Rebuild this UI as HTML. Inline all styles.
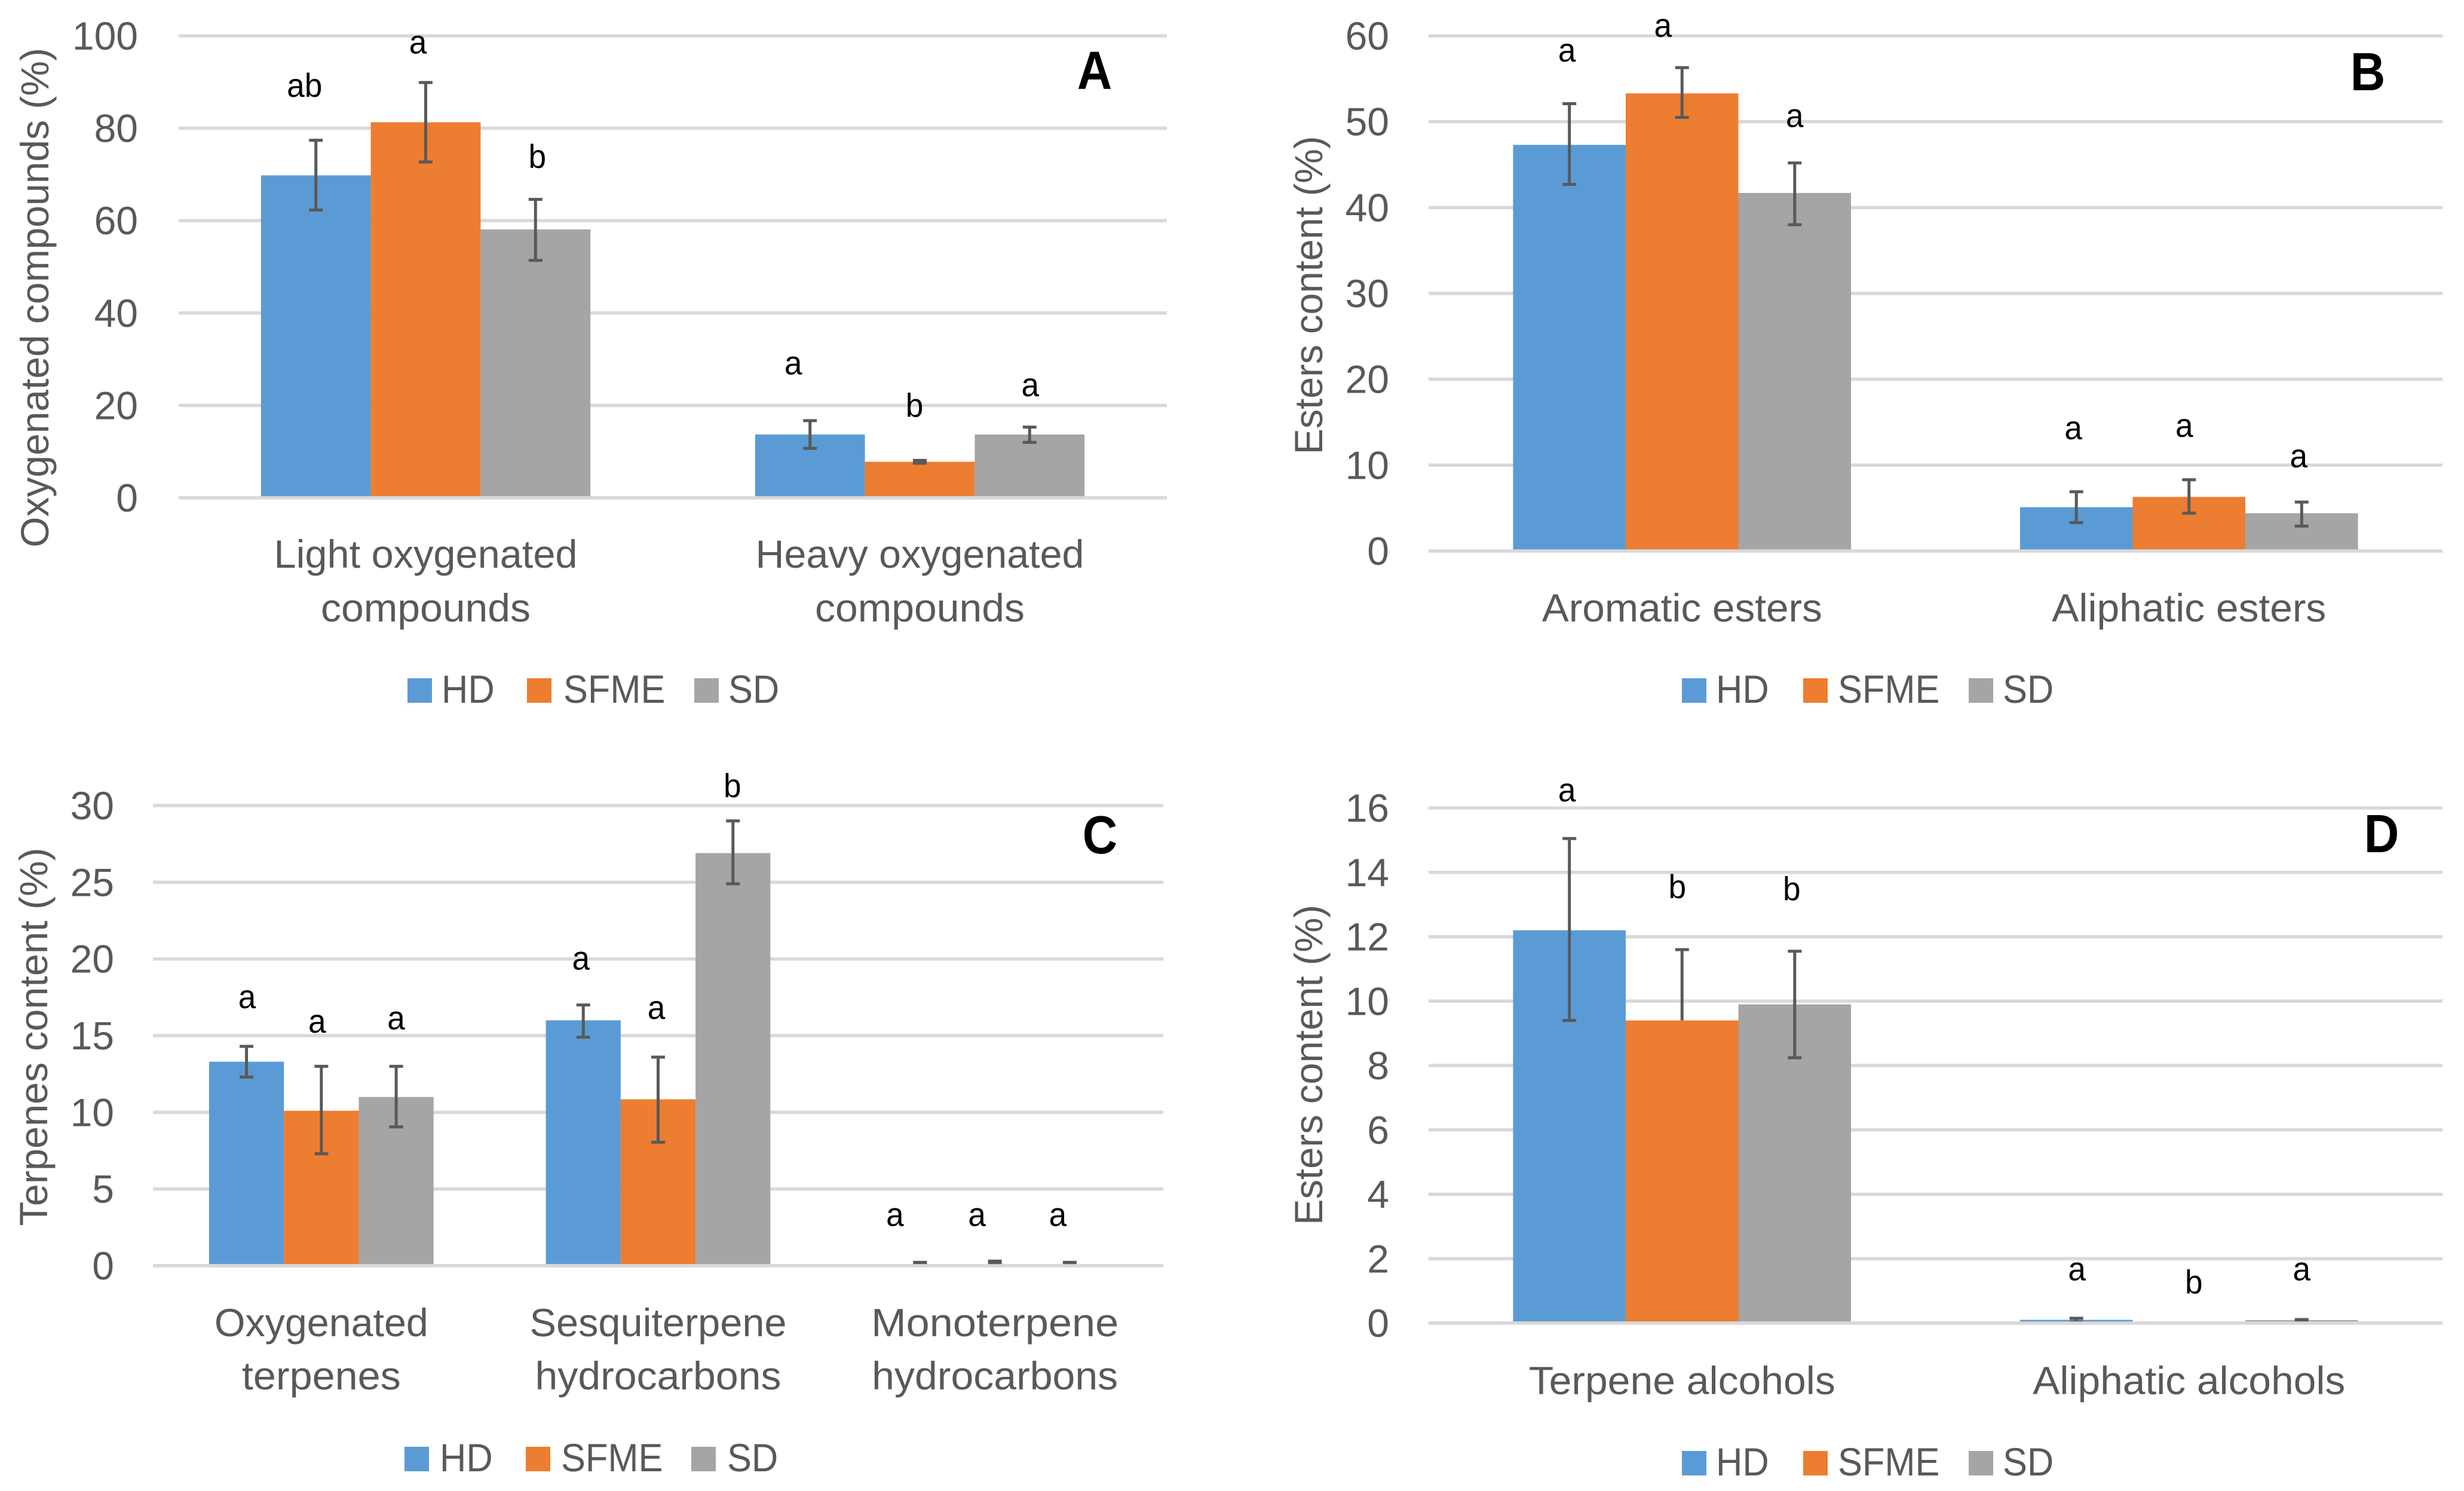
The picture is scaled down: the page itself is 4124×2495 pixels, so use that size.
<!DOCTYPE html>
<html lang="en">
<head>
<meta charset="utf-8">
<title>Composition of extracts: panels A to D</title>
<style>
html,body{margin:0;padding:0;background:#fff;}
svg{display:block;font-family:"Liberation Sans",sans-serif;}
</style>
</head>
<body>
<svg id="figure" xmlns="http://www.w3.org/2000/svg" width="4124" height="2495" viewBox="0 0 4124 2495">
<rect width="4124" height="2495" fill="#ffffff"/>
</svg>
<script>
// Shared series
const seriesNames = ['HD', 'SFME', 'SD'];
const seriesColors = ['#5b9bd5', '#ed7d31', '#a5a5a5'];

// Panel A
const aCategories = [['Light oxygenated', 'compounds'], ['Heavy oxygenated', 'compounds']];
const aTicks = [0, 20, 40, 60, 80, 100];
const aHD = [69.8, 13.7];
const aSFME = [81.3, 7.8];
const aSD = [58.1, 13.7];
const aHDHigh = [77.4, 16.7];
const aHDLow = [62.3, 10.7];
const aSFMEHigh = [89.9, 8.1];
const aSFMELow = [72.7, 7.5];
const aSDHigh = [64.6, 15.3];
const aSDLow = [51.4, 12.0];
const aLetters = ['ab', 'a', 'b', 'a', 'b', 'a'];
const aLetterLevels = [86.8, 96.2, 71.4, 26.7, 17.5, 22.0];

// Panel B
const bCategories = [['Aromatic esters'], ['Aliphatic esters']];
const bTicks = [0, 10, 20, 30, 40, 50, 60];
const bHD = [47.3, 5.1];
const bSFME = [53.3, 6.3];
const bSD = [41.7, 4.4];
const bHDHigh = [52.1, 6.9];
const bHDLow = [42.7, 3.3];
const bSFMEHigh = [56.3, 8.3];
const bSFMELow = [50.5, 4.4];
const bSDHigh = [45.2, 5.7];
const bSDLow = [38.0, 2.9];
const bLetters = ['a', 'a', 'a', 'a', 'a', 'a'];
const bLetterLevels = [57.0, 59.9, 49.4, 13.0, 13.3, 9.75];

// Panel C
const cCategories = [['Oxygenated', 'terpenes'], ['Sesquiterpene', 'hydrocarbons'], ['Monoterpene', 'hydrocarbons']];
const cTicks = [0, 5, 10, 15, 20, 25, 30];
const cHD = [13.3, 16.0, 0.03];
const cSFME = [10.1, 10.85, 0.05];
const cSD = [11.0, 26.9, 0.03];
const cHDHigh = [14.3, 17.0, 0.22];
const cHDLow = [12.3, 14.9, 0.1];
const cSFMEHigh = [13.0, 13.6, 0.3];
const cSFMELow = [7.3, 8.05, 0.15];
const cSDHigh = [13.0, 29.0, 0.22];
const cSDLow = [9.05, 24.9, 0.1];
const cLetters = ['a', 'a', 'a', 'a', 'a', 'b', 'a', 'a', 'a'];
const cLetterLevels = [16.8, 15.2, 15.4, 19.3, 16.1, 30.55, 2.6, 2.6, 2.6];

// Panel D
const dCategories = [['Terpene alcohols'], ['Aliphatic alcohols']];
const dTicks = [0, 2, 4, 6, 8, 10, 12, 14, 16];
const dHD = [12.2, 0.1];
const dSFME = [9.4, 0];
const dSD = [9.9, 0.09];
const dHDHigh = [15.05, 0.15];
const dHDLow = [9.4, 0.03];
const dSFMEHigh = [11.6, 0];
const dSFMELow = [9.4, 0];
const dSDHigh = [11.55, 0.11];
const dSDLow = [8.24, 0.03];
const dLetters = ['a', 'b', 'b', 'a', 'b', 'a'];
const dLetterLevels = [16.2, 13.2, 13.13, 1.33, 0.92, 1.33];

const panels = [
  {
    id: 'a', mark: 'A', title: 'Oxygenated compounds (%)',
    categories: aCategories, ticks: aTicks,
    values: [aHD, aSFME, aSD], highs: [aHDHigh, aSFMEHigh, aSDHigh], lows: [aHDLow, aSFMELow, aSDLow],
    letters: aLetters, letterLevels: aLetterLevels,
    box: { left: 299, right: 1953, top: 60, bottom: 833 },
    tickRight: 231,
    titleBase: 81, titleMid: 498, titleLen: 836,
    catBase: [950, 1040], catLens: [[508, 351], [550, 351]],
    shifts: [-19, -13, 3, -28, -9, 1],
    markX: 1832, markBase: 149,
    legendTop: 1135, legendSw: [682, 882, 1162], legendTx: [739, 943, 1219]
  },
  {
    id: 'b', mark: 'B', title: 'Esters content (%)',
    categories: bCategories, ticks: bTicks,
    values: [bHD, bSFME, bSD], highs: [bHDHigh, bSFMEHigh, bSDHigh], lows: [bHDLow, bSFMELow, bSDLow],
    letters: bLetters, letterLevels: bLetterLevels,
    box: { left: 2391, right: 4088, top: 60, bottom: 922 },
    tickRight: 2325,
    titleBase: 2213, titleMid: 494, titleLen: 533,
    catBase: [1040], catLens: [[469], [459]],
    shifts: [-4, -32, 0, -5, -8, -5],
    markX: 3963, markBase: 151,
    legendTop: 1135, legendSw: [2815, 3018, 3295], legendTx: [2872, 3076, 3352]
  },
  {
    id: 'c', mark: 'C', title: 'Terpenes content (%)',
    categories: cCategories, ticks: cTicks,
    values: [cHD, cSFME, cSD], highs: [cHDHigh, cSFMEHigh, cSDHigh], lows: [cHDLow, cSFMELow, cSDLow],
    letters: cLetters, letterLevels: cLetterLevels,
    box: { left: 256, right: 1947, top: 1348, bottom: 2118 },
    tickRight: 191,
    titleBase: 79, titleMid: 1735, titleLen: 633,
    catBase: [2236, 2325], catLens: [[358, 266], [430, 412], [414, 412]],
    shifts: [1, -7, 0, -4, -3, -1, -42, -30, -20],
    markX: 1841, markBase: 1428,
    legendTop: 2421, legendSw: [677, 880, 1157], legendTx: [736, 939, 1217]
  },
  {
    id: 'd', mark: 'D', title: 'Esters content (%)',
    categories: dCategories, ticks: dTicks,
    values: [dHD, dSFME, dSD], highs: [dHDHigh, dSFMEHigh, dSDHigh], lows: [dHDLow, dSFMELow, dSDLow],
    letters: dLetters, letterLevels: dLetterLevels,
    box: { left: 2391, right: 4088, top: 1352, bottom: 2214 },
    tickRight: 2325,
    titleBase: 2213, titleMid: 1782, titleLen: 536,
    catBase: [2333], catLens: [[513], [523]],
    shifts: [-4, -8, -5, 1, 8, 0],
    markX: 3986, markBase: 1426,
    legendTop: 2428, legendSw: [2815, 3018, 3295], legendTx: [2872, 3076, 3352]
  }
];

const SVG_NS = 'http://www.w3.org/2000/svg';
const figure = document.getElementById('figure');
const TEXT_GREY = '#595959';
const GRID = '#d9d9d9';
const ERR = '#595959';
const LINE_H = 5.5;

function rect(parent, x, y, w, h, fill) {
  const el = document.createElementNS(SVG_NS, 'rect');
  el.setAttribute('x', x);
  el.setAttribute('y', y);
  el.setAttribute('width', w);
  el.setAttribute('height', h);
  el.setAttribute('fill', fill);
  parent.appendChild(el);
  return el;
}

function text(parent, str, x, y, size, fill, anchor, sx, bold) {
  const el = document.createElementNS(SVG_NS, 'text');
  el.textContent = str;
  el.setAttribute('transform', 'translate(' + x + ' ' + y + ') scale(' + sx + ' 1)');
  el.setAttribute('font-size', size);
  el.setAttribute('fill', fill);
  el.setAttribute('text-anchor', anchor);
  if (bold) el.setAttribute('font-weight', 'bold');
  parent.appendChild(el);
  return el;
}

function fitted(el, len) {
  // stretch text to the measured run length of the original label
  el.setAttribute('textLength', len);
  el.setAttribute('lengthAdjust', 'spacingAndGlyphs');
}

function drawPanel(p) {
  const g = document.createElementNS(SVG_NS, 'g');
  
  
  figure.appendChild(g);

  const maxTick = p.ticks[p.ticks.length - 1];
  const yAxis = v => p.box.bottom - (v / maxTick) * (p.box.bottom - p.box.top);
  const catWidth = (p.box.right - p.box.left) / p.categories.length;
  const barWidth = catWidth / 4.5;
  const catCentre = i => p.box.left + catWidth * (i + 0.5);
  const barLeft = (i, s) => catCentre(i) - 1.5 * barWidth + s * barWidth;

  // gridlines and y tick labels
  p.ticks.forEach(t => {
    const line = rect(g, p.box.left, yAxis(t) - LINE_H / 2, p.box.right - p.box.left, LINE_H, GRID);
    
    
    const lab = text(g, String(t), p.tickRight, yAxis(t) + 23, 66, TEXT_GREY, 'end', 1, false);
    
    
  });

  // y axis title
  const title = document.createElementNS(SVG_NS, 'text');
  title.textContent = p.title;
  title.setAttribute('transform', 'translate(' + p.titleBase + ' ' + p.titleMid + ') rotate(-90)');
  title.setAttribute('font-size', 66);
  title.setAttribute('fill', TEXT_GREY);
  title.setAttribute('text-anchor', 'middle');
  fitted(title, p.titleLen);
  
  
  g.appendChild(title);

  // bars
  p.values.forEach((vals, s) => {
    vals.forEach((v, i) => {
      const h = yAxis(0) - yAxis(v);
      const bar = rect(g, barLeft(i, s), yAxis(v), barWidth, h, seriesColors[s]);
      
      
    });
  });

  // error bars
  p.values.forEach((vals, s) => {
    vals.forEach((v, i) => {
      const hi = p.highs[s][i];
      const lo = p.lows[s][i];
      if (hi === lo) return;
      const cx = barLeft(i, s) + barWidth / 2;
      const eg = document.createElementNS(SVG_NS, 'g');
      
      
      g.appendChild(eg);
      rect(eg, cx - 2.5, yAxis(hi), 5, Math.max(yAxis(lo) - yAxis(hi), 1), ERR);
      rect(eg, cx - 11.5, yAxis(hi) - 2.5, 23, 5, ERR);
      if (lo !== v) rect(eg, cx - 11.5, yAxis(lo) - 2.5, 23, 5, ERR);
    });
  });

  // category axis line sits over the bar feet
  const axisLine = rect(g, p.box.left, yAxis(0) - LINE_H / 2, p.box.right - p.box.left, LINE_H, GRID);
  
  

  // significance letters
  p.letters.forEach((letter, n) => {
    const s = n % 3;
    const i = Math.floor(n / 3);
    const cx = barLeft(i, s) + barWidth / 2 + p.shifts[n];
    const el = text(g, letter, cx, yAxis(p.letterLevels[n]), 56, '#000000', 'middle', 0.95, false);
    
    
  });

  // category labels
  p.categories.forEach((lines, i) => {
    lines.forEach((line, l) => {
      const el = text(g, line, catCentre(i), p.catBase[l], 66, TEXT_GREY, 'middle', 1, false);
      fitted(el, p.catLens[i][l]);
      
      
    });
  });

  // panel letter
  const mark = text(g, p.mark, p.markX, p.markBase, 90, '#000000', 'middle', 0.9, true);
  
  

  // legend
  seriesNames.forEach((name, s) => {
    const entry = document.createElementNS(SVG_NS, 'g');
    
    
    g.appendChild(entry);
    const sw = rect(entry, p.legendSw[s], p.legendTop, 41, 41, seriesColors[s]);
    
    
    const lab = text(entry, name, p.legendTx[s], p.legendTop + 41, 66, TEXT_GREY, 'start', 0.93, false);
    
    
  });
}

panels.forEach(drawPanel);
</script>
</body>
</html>
